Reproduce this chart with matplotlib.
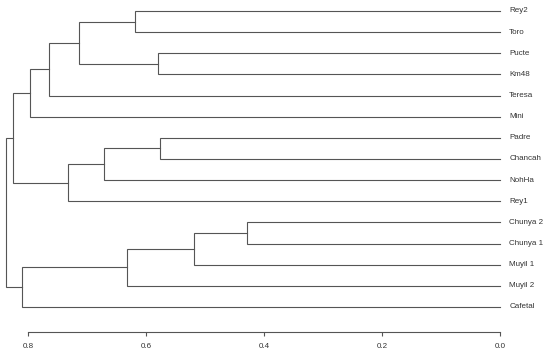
import matplotlib
matplotlib.use("Agg")
import matplotlib.pyplot as plt

plt.rcParams['font.family'] = ['Liberation Sans', 'DejaVu Sans']

# leaves, top to bottom
leaves = ['Rey2', 'Toro', 'Pucte', 'Km48', 'Teresa', 'Mini', 'Padre', 'Chancah',
          'NohHa', 'Rey1', 'Chunya 2', 'Chunya 1', 'Muyil 1', 'Muyil 2', 'Cafetal']

# merges: (left, right, height); names refer to leaves or earlier clusters
merges = [
    ('Rey2', 'Toro', 0.619, 'c1'),
    ('Pucte', 'Km48', 0.579, 'c2'),
    ('c1', 'c2', 0.714, 'c3'),
    ('c3', 'Teresa', 0.764, 'c4'),
    ('c4', 'Mini', 0.796, 'c5'),
    ('Padre', 'Chancah', 0.576, 'c6'),
    ('c6', 'NohHa', 0.671, 'c7'),
    ('c7', 'Rey1', 0.733, 'c8'),
    ('c5', 'c8', 0.826, 'c9'),
    ('Chunya 2', 'Chunya 1', 0.428, 'c10'),
    ('c10', 'Muyil 1', 0.518, 'c11'),
    ('c11', 'Muyil 2', 0.632, 'c12'),
    ('c12', 'Cafetal', 0.810, 'c13'),
    ('c9', 'c13', 0.838, 'root'),
]

line_col = '#555555'

fig = plt.figure(figsize=(5.5, 3.56), dpi=100)
ax = fig.add_axes([0, 24.3 / 356, 500 / 550, 331.7 / 356])

pos = {}
hgt = {}
for i, name in enumerate(leaves):
    pos[name] = i
    hgt[name] = 0.0

for a, b, h, name in merges:
    ya, yb = pos[a], pos[b]
    ax.plot([hgt[a], h, h, hgt[b]], [ya, ya, yb, yb], color=line_col, lw=0.8,
            clip_on=False, solid_joinstyle='miter')
    pos[name] = (ya + yb) / 2
    hgt[name] = h

for i, name in enumerate(leaves):
    ax.text(-0.0155, i, name, ha='left', va='center', fontsize=5.8, color='#333333')

ax.set_xlim(500 / 590, 0)
ax.set_ylim(15.17, -0.52)

for s in ['top', 'right', 'left']:
    ax.spines[s].set_visible(False)
ax.spines['bottom'].set_bounds(0, 0.8)
ax.spines['bottom'].set_color(line_col)
ax.spines['bottom'].set_linewidth(0.8)
ax.set_yticks([])
ax.set_xticks([0.0, 0.2, 0.4, 0.6, 0.8])
ax.set_xticklabels(['0.0', '0.2', '0.4', '0.6', '0.8'])
ax.tick_params(axis='x', length=3, width=0.8, color=line_col, pad=5,
               labelsize=5.8, labelcolor='#333333')
ax.patch.set_visible(False)

fig.savefig('out.png', dpi=100)
